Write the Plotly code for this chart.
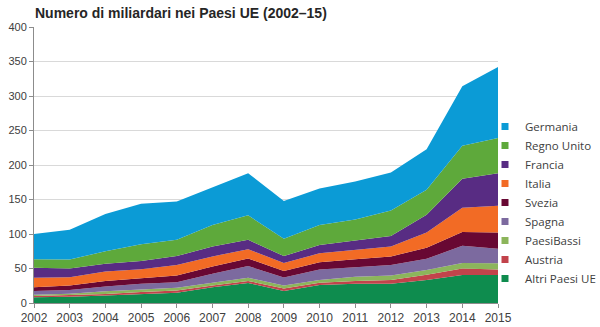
import plotly.graph_objects as go

years = list(range(2002, 2016))

altri =     [8.5, 9, 11, 13, 15, 23, 29, 17.5, 26, 28, 28, 33.5, 40.5, 40.5]
austria =   [1.5, 2, 2, 3, 3, 2.5, 3, 3.5, 3.5, 4, 5.5, 7.5, 9.5, 8]
paesi_bassi = [2, 2.5, 4, 3.5, 4, 4, 4.5, 4.5, 4, 6, 6.5, 7, 8, 9]
spagna =    [5.5, 5.5, 7, 8.5, 8, 13, 17, 11.5, 15, 14, 15, 16, 25, 21]
svezia =    [5.5, 6.5, 8, 8.5, 10, 10.5, 11, 9.5, 10.5, 11.5, 12.5, 16, 20, 23.5]
italia =    [13.5, 12, 13.5, 12.5, 15, 14.5, 13.5, 11.5, 13, 13, 14.5, 22, 35, 39]
francia =   [14.5, 12.5, 11.5, 12, 13, 14.5, 13.5, 10, 12, 13.5, 15, 26, 42, 47]
regno_unito = [12.5, 13, 18, 24, 23.5, 31, 35.5, 25, 29, 31, 37, 36, 48, 51]
germania =  [36.5, 43, 54, 59, 55.5, 54, 61, 55, 53, 55, 55, 59, 86, 103]

series = [
    ("Altri Paesi UE", altri, "#0e8c4e"),
    ("Austria", austria, "#c2434b"),
    ("PaesiBassi", paesi_bassi, "#8cb55b"),
    ("Spagna", spagna, "#7c6a9f"),
    ("Svezia", svezia, "#680833"),
    ("Italia", italia, "#f26b25"),
    ("Francia", francia, "#582c83"),
    ("Regno Unito", regno_unito, "#5ea93b"),
    ("Germania", germania, "#0b9bd6"),
]

fig = go.Figure()
for name, vals, col in series:
    fig.add_trace(go.Scatter(
        x=years, y=vals, name=name, mode="lines", stackgroup="one",
        line=dict(width=0, color=col), fillcolor=col, showlegend=False,
        hoverinfo="x+y+name"))

for name, vals, col in series:
    fig.add_trace(go.Scatter(
        x=[None], y=[None], name=name, mode="markers",
        marker=dict(symbol="square", size=7, color=col), showlegend=True))

axis_font = dict(family="Liberation Sans, Arial, sans-serif", size=11, color="#404040")
xaxis_font = dict(family="Liberation Sans, Arial, sans-serif", size=12, color="#404040")

L, R, T, B = 34, 102, 27, 24
pw, ph = 600 - L - R, 327 - T - B

fig.update_layout(
    width=600, height=327,
    margin=dict(l=L, r=R, t=T, b=B, autoexpand=False),
    paper_bgcolor="white", plot_bgcolor="white",
    title=dict(text="<b>Numero di miliardari nei Paesi UE (2002–15)</b>",
               x=35/600, xanchor="left", y=1-13/327, yanchor="middle",
               font=dict(family="Liberation Sans, Arial, sans-serif", size=14, color="#262626")),
    xaxis=dict(range=[2002, 2015], tickmode="linear", tick0=2002, dtick=1,
               showgrid=False, showline=True, linecolor="#8c8c8c", linewidth=1,
               ticks="outside", ticklen=4, tickcolor="#8c8c8c",
               tickfont=xaxis_font, zeroline=False, automargin=False),
    yaxis=dict(range=[0, 400], dtick=50, showgrid=True, gridcolor="#d9d9d9",
               showline=True, linecolor="#8c8c8c", linewidth=1,
               ticks="outside", ticklen=4, tickcolor="#8c8c8c",
               tickfont=axis_font, zeroline=False, automargin=False),
    legend=dict(traceorder="reversed", x=(485 - L)/pw, xanchor="left",
                y=(327 - B - 112)/ph, yanchor="top",
                font=dict(family="Open Sans, sans-serif", size=11.5, color="#404040"),
                bgcolor="rgba(0,0,0,0)", itemwidth=30, tracegroupgap=0),
    showlegend=True,
)

fig.write_html("out.html")
